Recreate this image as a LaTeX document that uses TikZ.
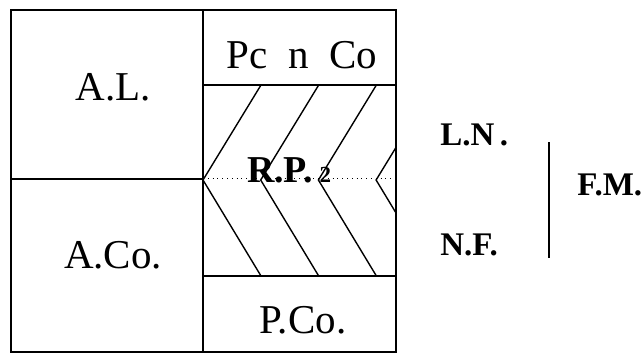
\documentclass[tikz,border=0pt]{standalone}
\usepackage{fontspec}
\setmainfont{Liberation Serif}
\usepackage{tikz}

\begin{document}
\begin{tikzpicture}[
  x=0.5pt, y=-0.5pt,
  frame/.style={line width=1pt},
  chevron/.style={line width=0.7pt},
  zone/.style={font=\fontsize{20.5}{24}\selectfont, inner sep=0pt, anchor=base},
  tag/.style={font=\fontsize{16.5}{20}\selectfont\bfseries, inner sep=0pt, anchor=base west}
]
\useasboundingbox (0,0) rectangle (641,354);

% outer frame and partitions
\draw[frame] (11,10) rectangle (396,352);
\draw[frame] (203,10) -- (203,352);
\draw[frame] (11,179) -- (203,179);
\draw[frame] (203,85) -- (396,85);
\draw[frame] (203,276) -- (396,276);

% central axis
\draw[dotted, line width=0.4pt] (203,178) -- (396,178);

% chevrons
\begin{scope}
  \clip (203,85) rectangle (396,276);
  \foreach \i in {0,1,2,3}
    \draw[chevron] (261+57.7*\i,85) -- (203+57.7*\i,180) -- (261+57.7*\i,276);
\end{scope}

\node[zone] (al) at (113,100) {A.L.};
\node[zone] (aco) at (113,268) {A.Co.};
\node[zone] (pcnco) at (302,68) {Pc\ \ n\ \ Co};
\node[zone] (pco) at (303,333) {P.Co.};
\node[zone, font=\fontsize{19}{23}\selectfont\bfseries] (rp) at (289,182)
  {R.P.\,{\fontsize{11.5}{14}\selectfont 2}};

\node[tag] (ln) at (440,145) {L.N\,.};
\node[tag] (nf) at (440,255) {N.F.};
\node[tag] (fm) at (577,195) {F.M.};
\coordinate (bartop) at (549,142);
\coordinate (barbot) at (549,258);
\draw[line width=0.9pt] (bartop) -- (barbot);
\end{tikzpicture}
\end{document}
